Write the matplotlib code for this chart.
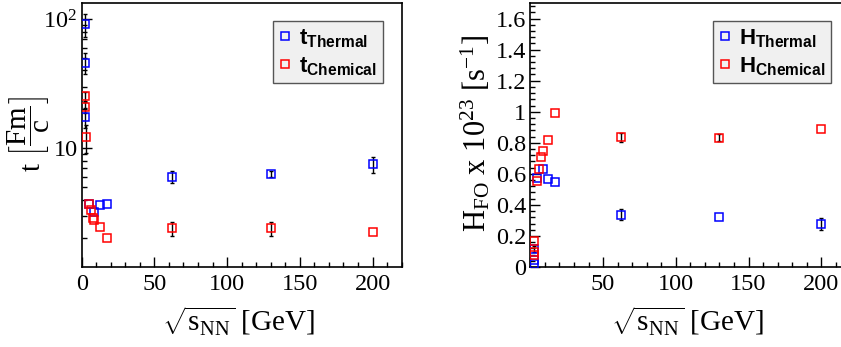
import numpy as np
import matplotlib.pyplot as plt
from matplotlib.ticker import MultipleLocator, FixedLocator, FixedFormatter, LogLocator, NullFormatter, FuncFormatter

plt.rcParams['font.family'] = 'Liberation Serif'
plt.rcParams['mathtext.fontset'] = 'custom'
plt.rcParams['mathtext.rm'] = 'Liberation Serif'
plt.rcParams['mathtext.it'] = 'Liberation Serif:italic'
plt.rcParams['mathtext.bf'] = 'Liberation Sans:bold'

# sqrt(s_NN) [GeV]
e_th = [2.2, 2.4, 2.6, 4.8, 8.8, 12.3, 17.3, 62.4, 130, 200]
e_ch = [2.2, 2.4, 2.7, 4.8, 6.3, 7.6, 8.8, 12.3, 17.3, 62.4, 130, 200]

# freeze-out times [Fm/c]
t_th = [91, 45.8, 17.3, 3.68, 3.2, 3.6, 3.7, 6.0, 6.3, 7.5]
t_th_err = [18, 8.5, 3.0, 0, 0, 0, 0, 0.6, 0.35, 1.1]
t_ch = [25.3, 20.7, 12.2, 3.68, 3.3, 2.9, 2.77, 2.45, 2.03, 2.4, 2.4, 2.26]
t_ch_err = [2.0, 2.0, 3.0, 0, 0, 0, 0, 0, 0, 0.3, 0.3, 0]

# H_FO x 10^23 [s^-1]
H_th = [0.022, 0.044, 0.116, 0.571, 0.629, 0.565, 0.545, 0.338, 0.323, 0.276]
H_th_err = [0, 0, 0.02, 0, 0, 0, 0, 0.035, 0, 0.04]
H_ch = [0.079, 0.097, 0.168, 0.556, 0.629, 0.707, 0.75, 0.818, 0.991, 0.836, 0.834, 0.89]
H_ch_err = [0, 0, 0, 0, 0, 0, 0, 0, 0, 0.03, 0.025, 0]


def draw(ax, x, y, yerr, color, label):
    x, y, yerr = np.array(x), np.array(y), np.array(yerr)
    k = yerr > 0
    ax.errorbar(x[k], y[k], yerr=yerr[k], fmt='none', ecolor='black', elinewidth=1,
                capsize=1.6, capthick=1, zorder=2)
    line, = ax.plot(x, y, 's', ms=6.4, mfc='none', mec=color, mew=1.1, label=label, zorder=3)
    return line


def style(ax):
    ax.set_xlim(0, 220)
    ax.xaxis.set_major_locator(MultipleLocator(50))
    ax.xaxis.set_minor_locator(MultipleLocator(10))
    ax.tick_params(which='both', direction='in', top=False, right=False,
                   labelsize=17.5, width=1)
    ax.tick_params(which='major', length=7)
    ax.tick_params(which='minor', length=3.5)
    ax.tick_params(axis='x', pad=5)
    ax.tick_params(axis='y', pad=3)
    for s in ax.spines.values():
        s.set_linewidth(1.2)
    ax.set_xlabel(r'$\sqrt{\mathrm{s}_{\mathrm{NN}}}$ [GeV]', fontsize=21)
    ax.xaxis.set_label_coords(0.491, -0.205)
    ax.xaxis.label.set_va('center')


def legend(ax, handles):
    leg = ax.legend(handles=handles, loc='upper right', bbox_to_anchor=(0.9406, 0.932),
                    fontsize=16, frameon=True, fancybox=False, framealpha=1,
                    facecolor='#f0f0f0', edgecolor='#555555', handlelength=0.6,
                    handletextpad=0.35, borderpad=0.25, labelspacing=0.3,
                    borderaxespad=0)
    leg.get_frame().set_linewidth(1)


fig = plt.figure(figsize=(8.41, 3.47), dpi=100)
ax1 = fig.add_axes([0.0971, 0.2305, 0.3805, 0.7608])
ax2 = fig.add_axes([0.6306, 0.2305, 0.3805, 0.7608])

# left: times
h1 = draw(ax1, e_th, t_th, t_th_err, 'blue', r'$\mathbf{t}_{\mathbf{Thermal}}$')
h2 = draw(ax1, e_ch, t_ch, t_ch_err, 'red', r'$\mathbf{t}_{\mathbf{Chemical}}$')
ax1.set_yscale('log')
ax1.set_ylim(1.2, 133)
style(ax1)
ax1.yaxis.set_major_locator(FixedLocator([10, 100]))
ax1.yaxis.set_major_formatter(FixedFormatter(['10', r'$10^{2}$']))
ax1.yaxis.set_minor_locator(LogLocator(base=10, subs=np.arange(2, 10)))
ax1.yaxis.set_minor_formatter(NullFormatter())
ax1.set_ylabel(r't $\left[\dfrac{\mathrm{Fm}}{\mathrm{c}}\right]$', fontsize=21)
ax1.yaxis.set_label_coords(-0.165, 0.504)
ax1.yaxis.label.set_va('center')
legend(ax1, [h1, h2])

# right: Hubble parameter
h3 = draw(ax2, e_th, H_th, H_th_err, 'blue', r'$\mathbf{H}_{\mathbf{Thermal}}$')
h4 = draw(ax2, e_ch, H_ch, H_ch_err, 'red', r'$\mathbf{H}_{\mathbf{Chemical}}$')
ax2.set_ylim(0, 1.7)
style(ax2)
ax2.xaxis.set_major_formatter(FuncFormatter(lambda v, p: '' if v == 0 else f'{v:g}'))
ax2.yaxis.set_major_locator(MultipleLocator(0.2))
ax2.yaxis.set_minor_locator(MultipleLocator(0.04))
ax2.yaxis.set_major_formatter(FuncFormatter(lambda v, p: f'{round(v, 2):g}'))
ax2.set_ylabel(r'H$_{\mathrm{FO}}$ x 10$^{23}$ [s$^{-1}$]', fontsize=22)
ax2.yaxis.set_label_coords(-0.170, 0.504)
ax2.yaxis.label.set_va('center')
legend(ax2, [h3, h4])

plt.savefig('out.png', dpi=100)
